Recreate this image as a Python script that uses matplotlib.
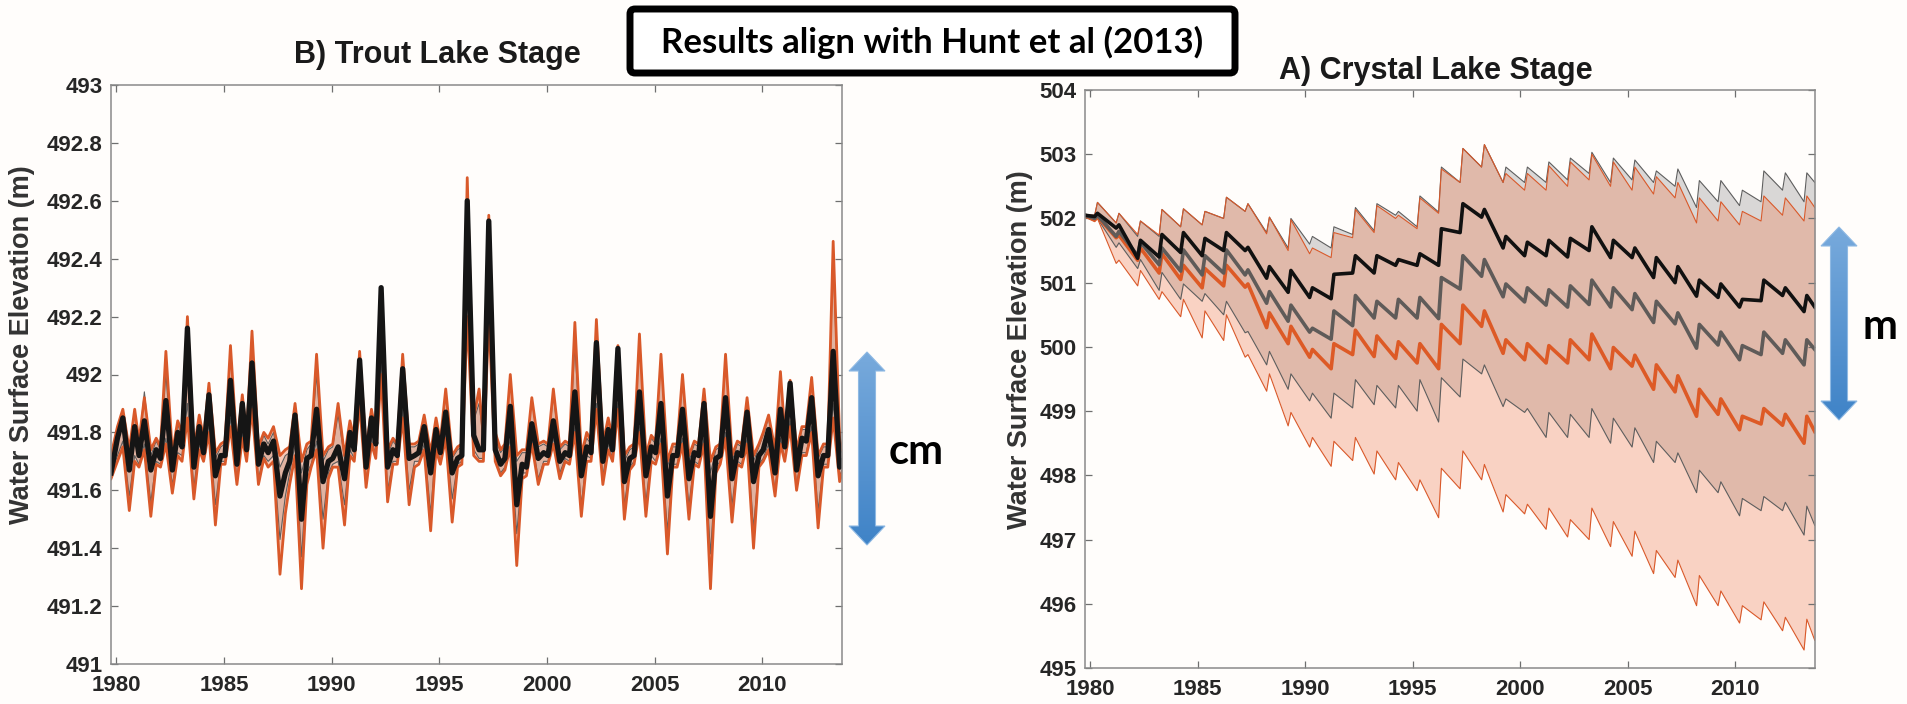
import numpy as np
import matplotlib
matplotlib.use("Agg")
import matplotlib.pyplot as plt
from matplotlib.patches import Polygon, FancyBboxPatch
from matplotlib.colors import LinearSegmentedColormap
from matplotlib.ticker import FuncFormatter

# ---------------- DATA ----------------
# Trout Lake (left panel): start, then per year phases (.05, .30, .60, .85), 2013 row ends at 2013.71
trout_years = list(range(1980, 2013))
trout_phases = [0.05, 0.30, 0.60, 0.85]
trout_tail = [2013.05, 2013.30, 2013.60, 2013.71]
trout_start = 1979.75

trout_black = [491.66,
    491.78, 491.85, 491.67, 491.82,  491.72, 491.84, 491.67, 491.74,  491.71, 491.91, 491.67, 491.80,
    491.75, 492.16, 491.68, 491.82,  491.73, 491.93, 491.65, 491.72,  491.72, 491.98, 491.69, 491.90,
    491.74, 492.04, 491.69, 491.76,  491.73, 491.77, 491.58, 491.66,  491.70, 491.86, 491.50, 491.71,
    491.72, 491.88, 491.63, 491.70,  491.71, 491.75, 491.64, 491.80,  491.74, 492.05, 491.68, 491.85,
    491.76, 492.30, 491.68, 491.74,  491.72, 492.02, 491.71, 491.72,  491.73, 491.82, 491.66, 491.81,
    491.73, 491.87, 491.66, 491.71,  491.72, 492.60, 491.79, 491.74,  491.74, 492.53, 491.74, 491.69,
    491.71, 491.89, 491.55, 491.69,  491.68, 491.83, 491.71, 491.73,  491.72, 491.84, 491.70, 491.73,
    491.72, 491.94, 491.65, 491.75,  491.73, 492.11, 491.70, 491.81,  491.74, 492.09, 491.63, 491.71,
    491.72, 491.94, 491.65, 491.75,  491.73, 491.90, 491.58, 491.72,  491.72, 491.88, 491.64, 491.73,
    491.72, 491.90, 491.51, 491.71,  491.72, 491.92, 491.64, 491.73,  491.72, 491.87, 491.63, 491.72,
    491.74, 491.81, 491.66, 491.88,  491.75, 491.97, 491.67, 491.78,  491.77, 491.92, 491.65, 491.72,
    491.72, 492.08, 491.68, 491.70]

trout_orange_hi = [491.72,
    491.82, 491.88, 491.74, 491.88,  491.77, 491.92, 491.74, 491.78,  491.75, 492.08, 491.73, 491.84,
    491.80, 492.20, 491.74, 491.86,  491.78, 491.97, 491.73, 491.76,  491.77, 492.10, 491.75, 491.93,
    491.79, 492.15, 491.75, 491.80,  491.78, 491.82, 491.72, 491.74,  491.75, 491.90, 491.70, 491.76,
    491.77, 492.07, 491.72, 491.75,  491.76, 491.90, 491.72, 491.84,  491.78, 492.08, 491.74, 491.88,
    491.80, 492.30, 491.74, 491.78,  491.76, 492.07, 491.76, 491.76,  491.77, 491.86, 491.73, 491.85,
    491.77, 491.95, 491.72, 491.75,  491.76, 492.68, 491.85, 491.95,  491.78, 492.55, 491.80, 491.74,
    491.76, 492.00, 491.72, 491.74,  491.74, 491.92, 491.76, 491.77,  491.76, 491.95, 491.75, 491.77,
    491.76, 492.18, 491.72, 491.80,  491.77, 492.19, 491.76, 491.85,  491.78, 492.10, 491.72, 491.75,
    491.76, 492.14, 491.72, 491.79,  491.77, 492.07, 491.70, 491.76,  491.76, 492.00, 491.72, 491.77,
    491.76, 491.95, 491.70, 491.75,  491.76, 492.07, 491.72, 491.77,  491.76, 491.92, 491.72, 491.76,
    491.80, 491.86, 491.74, 492.01,  491.80, 491.98, 491.74, 491.82,  491.82, 491.99, 491.72, 491.76,
    491.76, 492.46, 491.78, 491.74]

trout_orange_lo = [491.64,
    491.70, 491.75, 491.53, 491.70,  491.68, 491.74, 491.51, 491.69,  491.68, 491.76, 491.59, 491.72,
    491.70, 491.85, 491.57, 491.74,  491.70, 491.80, 491.48, 491.69,  491.69, 491.82, 491.62, 491.78,
    491.70, 491.88, 491.62, 491.71,  491.68, 491.70, 491.31, 491.52,  491.62, 491.72, 491.26, 491.62,
    491.68, 491.74, 491.40, 491.64,  491.68, 491.68, 491.48, 491.72,  491.70, 491.90, 491.61, 491.76,
    491.71, 492.00, 491.56, 491.69,  491.69, 491.85, 491.55, 491.68,  491.69, 491.74, 491.46, 491.74,
    491.69, 491.78, 491.49, 491.68,  491.69, 492.20, 491.72, 491.70,  491.70, 492.20, 491.70, 491.65,
    491.67, 491.75, 491.34, 491.64,  491.65, 491.76, 491.62, 491.69,  491.69, 491.76, 491.64, 491.70,
    491.69, 491.80, 491.51, 491.70,  491.70, 491.88, 491.62, 491.74,  491.70, 491.88, 491.50, 491.67,
    491.69, 491.80, 491.51, 491.70,  491.69, 491.76, 491.38, 491.68,  491.68, 491.76, 491.50, 491.69,
    491.68, 491.76, 491.26, 491.66,  491.69, 491.78, 491.49, 491.69,  491.68, 491.76, 491.40, 491.68,
    491.70, 491.74, 491.58, 491.76,  491.70, 491.82, 491.60, 491.72,  491.72, 491.80, 491.47, 491.68,
    491.68, 491.85, 491.63, 491.66]

trout_gray_hi = [491.70,
    491.80, 491.87, 491.72, 491.86,  491.76, 491.94, 491.72, 491.77,  491.74, 492.00, 491.72, 491.83,
    491.78, 492.20, 491.72, 491.85,  491.77, 491.95, 491.71, 491.75,  491.76, 492.10, 491.73, 491.92,
    491.78, 492.12, 491.73, 491.79,  491.76, 491.80, 491.68, 491.72,  491.73, 491.89, 491.66, 491.74,
    491.76, 492.00, 491.70, 491.74,  491.75, 491.86, 491.71, 491.83,  491.77, 492.07, 491.73, 491.87,
    491.79, 492.30, 491.72, 491.77,  491.75, 492.05, 491.75, 491.75,  491.76, 491.86, 491.72, 491.84,
    491.76, 491.93, 491.71, 491.74,  491.75, 492.68, 491.84, 491.90,  491.77, 492.55, 491.78, 491.73,
    491.75, 492.00, 491.70, 491.73,  491.73, 491.92, 491.75, 491.76,  491.75, 491.93, 491.74, 491.76,
    491.75, 492.10, 491.71, 491.78,  491.76, 492.15, 491.75, 491.84,  491.77, 492.10, 491.70, 491.74,
    491.75, 492.14, 491.71, 491.78,  491.76, 492.07, 491.68, 491.75,  491.75, 491.98, 491.70, 491.76,
    491.75, 491.94, 491.66, 491.74,  491.75, 492.07, 491.70, 491.76,  491.75, 491.91, 491.70, 491.75,
    491.79, 491.85, 491.72, 492.01,  491.79, 491.98, 491.73, 491.81,  491.81, 491.98, 491.71, 491.75,
    491.75, 492.40, 491.75, 491.73]

trout_gray_lo = [491.65,
    491.72, 491.77, 491.58, 491.72,  491.69, 491.76, 491.56, 491.70,  491.69, 491.78, 491.62, 491.73,
    491.72, 491.90, 491.61, 491.76,  491.71, 491.83, 491.55, 491.70,  491.70, 491.85, 491.64, 491.80,
    491.72, 491.90, 491.64, 491.72,  491.70, 491.72, 491.43, 491.58,  491.66, 491.76, 491.37, 491.66,
    491.69, 491.77, 491.50, 491.66,  491.69, 491.70, 491.55, 491.74,  491.71, 491.92, 491.63, 491.78,
    491.72, 492.05, 491.60, 491.70,  491.70, 491.88, 491.60, 491.70,  491.70, 491.76, 491.52, 491.76,
    491.70, 491.80, 491.57, 491.69,  491.70, 492.30, 491.74, 491.71,  491.71, 492.30, 491.71, 491.66,
    491.68, 491.78, 491.45, 491.66,  491.66, 491.78, 491.64, 491.70,  491.70, 491.78, 491.66, 491.71,
    491.70, 491.82, 491.55, 491.72,  491.71, 491.90, 491.65, 491.76,  491.71, 491.90, 491.55, 491.68,
    491.70, 491.82, 491.56, 491.72,  491.70, 491.78, 491.46, 491.69,  491.69, 491.78, 491.55, 491.70,
    491.69, 491.78, 491.38, 491.68,  491.70, 491.80, 491.55, 491.70,  491.69, 491.78, 491.47, 491.69,
    491.71, 491.76, 491.60, 491.78,  491.71, 491.84, 491.62, 491.73,  491.73, 491.82, 491.53, 491.69,
    491.69, 491.90, 491.65, 491.67]

# Crystal Lake (right panel): start, then per year (trough @ +0.20, peak @ +0.33), end
crystal_years = list(range(1980, 2014))
crystal_phases = [0.20, 0.33]
crystal_start = 1979.75
crystal_end = 2013.70

crystal_gray_hi = [502.05,
    502.05, 502.25, 501.93, 502.08, 501.72, 501.96, 501.72, 502.14, 501.87, 502.15, 501.90, 502.11,
    502.00, 502.33, 502.11, 502.23, 501.78, 502.02, 501.54, 502.00, 501.60, 501.72, 501.54, 501.87,
    501.75, 502.17, 501.81, 502.23, 502.05, 502.11, 501.87, 502.35, 502.10, 502.80, 502.56, 503.09,
    502.80, 503.15, 502.56, 502.80, 502.56, 502.80, 502.56, 502.88, 502.60, 502.94, 502.70, 503.03,
    502.56, 502.94, 502.60, 502.91, 502.56, 502.74, 502.50, 502.77, 502.17, 502.59, 502.26, 502.59,
    502.20, 502.44, 502.26, 502.74, 502.44, 502.71, 502.26, 502.71,
    502.56]

crystal_orange_hi = [502.05,
    502.05, 502.25, 501.93, 502.08, 501.75, 501.96, 501.74, 502.14, 501.87, 502.15, 501.90, 502.11,
    502.00, 502.33, 502.11, 502.23, 501.76, 502.02, 501.50, 501.98, 501.45, 501.54, 501.39, 501.78,
    501.70, 502.14, 501.78, 502.20, 502.00, 502.05, 501.84, 502.32, 502.08, 502.77, 502.56, 503.09,
    502.80, 503.15, 502.56, 502.70, 502.44, 502.70, 502.44, 502.82, 502.50, 502.88, 502.60, 503.00,
    502.50, 502.88, 502.44, 502.80, 502.38, 502.65, 502.32, 502.56, 501.93, 502.32, 501.96, 502.26,
    501.90, 502.11, 501.96, 502.35, 502.05, 502.32, 501.96, 502.35,
    502.17]

crystal_black = [502.05,
    502.03, 502.08, 501.85, 501.90, 501.38, 501.66, 501.40, 501.75, 501.47, 501.78, 501.42, 501.69,
    501.50, 501.78, 501.50, 501.55, 501.07, 501.25, 500.85, 501.19, 500.77, 500.92, 500.75, 501.13,
    501.15, 501.42, 501.15, 501.42, 501.27, 501.36, 501.27, 501.45, 501.27, 501.84, 501.78, 502.23,
    502.02, 502.14, 501.54, 501.72, 501.42, 501.63, 501.42, 501.66, 501.40, 501.69, 501.50, 501.87,
    501.39, 501.66, 501.39, 501.54, 501.08, 501.39, 501.00, 501.25, 500.79, 501.04, 500.77, 500.98,
    500.62, 500.74, 500.72, 501.04, 500.80, 500.92, 500.55, 500.80,
    500.62]

crystal_gray_mid = [502.05,
    502.00, 502.05, 501.72, 501.80, 501.42, 501.63, 501.28, 501.54, 501.18, 501.51, 501.12, 501.42,
    501.15, 501.51, 501.12, 501.20, 500.68, 500.86, 500.40, 500.65, 500.23, 500.29, 500.12, 500.56,
    500.33, 500.80, 500.45, 500.71, 500.45, 500.74, 500.45, 500.77, 500.44, 501.08, 500.90, 501.42,
    501.10, 501.36, 500.78, 500.98, 500.70, 500.92, 500.65, 500.89, 500.62, 500.95, 500.66, 501.04,
    500.62, 500.92, 500.58, 500.83, 500.38, 500.71, 500.36, 500.53, 499.98, 500.35, 500.03, 500.23,
    499.80, 500.02, 499.88, 500.23, 499.90, 500.11, 499.72, 500.11,
    499.96]

crystal_orange_mid = [502.05,
    501.98, 502.03, 501.70, 501.74, 501.35, 501.54, 501.15, 501.45, 501.05, 501.27, 500.92, 501.22,
    500.95, 501.27, 500.93, 500.98, 500.30, 500.53, 500.05, 500.32, 499.84, 499.96, 499.66, 500.05,
    499.88, 500.26, 499.85, 500.17, 499.82, 500.08, 499.75, 500.05, 499.66, 500.35, 500.05, 500.65,
    500.32, 500.56, 499.90, 500.11, 499.80, 500.05, 499.75, 500.02, 499.75, 500.11, 499.80, 500.20,
    499.66, 499.99, 499.70, 499.87, 499.34, 499.72, 499.30, 499.55, 498.92, 499.34, 498.95, 499.19,
    498.71, 498.92, 498.80, 499.04, 498.78, 498.95, 498.50, 498.92,
    498.68]

crystal_gray_lo = [502.02,
    501.97, 502.00, 501.55, 501.62, 501.22, 501.36, 500.88, 501.16, 500.74, 500.98, 500.71, 500.83,
    500.50, 500.71, 500.22, 500.24, 499.72, 499.93, 499.34, 499.58, 499.16, 499.28, 498.89, 499.28,
    499.05, 499.49, 499.10, 499.40, 499.05, 499.40, 499.00, 499.49, 498.83, 499.52, 499.22, 499.81,
    499.58, 499.72, 499.07, 499.19, 498.98, 499.04, 498.59, 498.98, 498.59, 498.95, 498.59, 499.04,
    498.50, 498.89, 498.44, 498.74, 498.20, 498.53, 498.20, 498.35, 497.73, 498.08, 497.73, 497.90,
    497.37, 497.64, 497.45, 497.67, 497.45, 497.58, 497.07, 497.52,
    497.22]

crystal_orange_lo = [502.02,
    501.95, 502.00, 501.30, 501.35, 500.95, 501.19, 500.74, 500.86, 500.47, 500.74, 500.14, 500.56,
    500.10, 500.50, 499.84, 499.88, 499.31, 499.58, 498.77, 498.98, 498.44, 498.59, 498.14, 498.53,
    498.23, 498.59, 498.02, 498.38, 497.93, 498.20, 497.76, 497.93, 497.34, 498.11, 497.79, 498.38,
    497.93, 498.17, 497.43, 497.70, 497.40, 497.55, 497.16, 497.49, 497.04, 497.31, 497.00, 497.49,
    496.89, 497.28, 496.74, 497.13, 496.47, 496.83, 496.41, 496.68, 495.97, 496.44, 495.97, 496.20,
    495.70, 495.97, 495.75, 496.03, 495.58, 495.79, 495.28, 495.76,
    495.43]

x_ticks = [1980, 1985, 1990, 1995, 2000, 2005, 2010]
trout_yticks = [491.0, 491.2, 491.4, 491.6, 491.8, 492.0, 492.2, 492.4, 492.6, 492.8, 493.0]
crystal_yticks = [495, 496, 497, 498, 499, 500, 501, 502, 503, 504]

title_left = "B) Trout Lake Stage"
title_right = "A) Crystal Lake Stage"
ylabel = "Water Surface Elevation (m)"
banner = "Results align with Hunt et al (2013)"

# ---------------- TIME AXES ----------------
t_trout = np.array([trout_start] + [y + p for y in trout_years for p in trout_phases] + trout_tail)
t_crystal = np.array([crystal_start] + [y + p for y in crystal_years for p in crystal_phases] + [crystal_end])

# ---------------- FIGURE ----------------
W, H = 1908, 704
BG = "#fffdfb"
fig = plt.figure(figsize=(W / 100, H / 100), dpi=100, facecolor=BG)

def px_axes(x0, y0, x1, y1):
    return fig.add_axes([x0 / W, 1 - y1 / H, (x1 - x0) / W, (y1 - y0) / H])

axL = px_axes(111, 85, 842, 664)
axR = px_axes(1085, 90, 1815, 668)

TFONT = ["Liberation Sans", "DejaVu Sans"]
GRAY_FILL = "#8c8c8c"
ORANGE_FILL = "#ef7d52"
ORANGE_LINE = "#d9592a"
GRAY_LINE = "#5e5e5e"

def style(ax, yticks, ylim):
    ax.set_facecolor(BG)
    ax.set_xlim(1979.75, 2013.71)
    ax.set_ylim(*ylim)
    ax.set_xticks(x_ticks)
    ax.set_yticks(yticks)
    ax.yaxis.set_major_formatter(FuncFormatter(lambda v, p: f"{v:g}"))
    ax.tick_params(direction="in", length=5, width=0.9, color="#6f6f6f",
                   top=True, right=True, labelcolor="#262626")
    ax.tick_params(axis="y", pad=6)
    ax.tick_params(axis="x", pad=8)
    for lab in ax.get_xticklabels() + ax.get_yticklabels():
        lab.set_fontfamily(TFONT)
        lab.set_fontweight("bold")
        lab.set_fontsize(16)
    for s in ax.spines.values():
        s.set_color("#8a8a8a")
        s.set_linewidth(1.1)

# Left: Trout Lake
axL.fill_between(t_trout, trout_gray_lo, trout_gray_hi, color=GRAY_FILL, alpha=0.33, lw=0)
axL.fill_between(t_trout, trout_orange_lo, trout_orange_hi, color=ORANGE_FILL, alpha=0.40, lw=0)
axL.plot(t_trout, trout_gray_hi, color=GRAY_LINE, lw=0.8)
axL.plot(t_trout, trout_gray_lo, color=GRAY_LINE, lw=0.8)
axL.plot(t_trout, trout_orange_hi, color=ORANGE_LINE, lw=2.0)
axL.plot(t_trout, trout_orange_lo, color=ORANGE_LINE, lw=2.0)
axL.plot(t_trout, trout_black, color="#151515", lw=3.8)
style(axL, trout_yticks, (491, 493))

# Right: Crystal Lake
axR.fill_between(t_crystal, crystal_gray_lo, crystal_gray_hi, color=GRAY_FILL, alpha=0.33, lw=0)
axR.fill_between(t_crystal, crystal_orange_lo, crystal_orange_hi, color=ORANGE_FILL, alpha=0.33, lw=0)
axR.plot(t_crystal, crystal_gray_hi, color=GRAY_LINE, lw=0.8)
axR.plot(t_crystal, crystal_gray_lo, color=GRAY_LINE, lw=0.8)
axR.plot(t_crystal, crystal_orange_hi, color=ORANGE_LINE, lw=0.8)
axR.plot(t_crystal, crystal_orange_lo, color=ORANGE_LINE, lw=0.8)
axR.plot(t_crystal, crystal_orange_mid, color="#dd5a26", lw=2.6)
axR.plot(t_crystal, crystal_gray_mid, color="#5f5b59", lw=2.6)
axR.plot(t_crystal, crystal_black, color="#111111", lw=2.6)
style(axR, crystal_yticks, (495, 504))

# ---------------- OVERLAY (titles, labels, banner, arrows) ----------------
ov = fig.add_axes([0, 0, 1, 1], zorder=10)
ov.patch.set_alpha(0)
ov.axis("off")
ov.set_autoscale_on(False)
ov.set_xlim(0, W)
ov.set_ylim(H, 0)

ov.text(437, 55, title_left, ha="center", va="center", fontsize=22, fontweight="bold",
        family=TFONT, color="#1a1a1a")
ov.text(1436, 71, title_right, ha="center", va="center", fontsize=22, fontweight="bold",
        family=TFONT, color="#1a1a1a")
ov.text(22, 345, ylabel, ha="center", va="center", rotation=90, fontsize=19.5,
        fontweight="bold", family=TFONT, color="#333333")
ov.text(1020, 350, ylabel, ha="center", va="center", rotation=90, fontsize=19.5,
        fontweight="bold", family=TFONT, color="#333333")

box = FancyBboxPatch((630, 9), 605, 64, boxstyle="round,pad=0,rounding_size=5",
                     lw=5, ec="black", fc="white", zorder=3)
ov.add_patch(box)
ov.text(932, 42, banner, ha="center", va="center", fontsize=25, fontweight="bold",
        family=["Lato", "DejaVu Sans"], color="black", zorder=4)

cmap = LinearSegmentedColormap.from_list("arrowblue", ["#78aadc", "#3f83c7"])
grad = np.linspace(0, 1, 256).reshape(-1, 1)

def double_arrow(cx, top, bot, sw=8.5, hw=18, hl=19):
    pts = [(cx, top), (cx + hw, top + hl), (cx + sw, top + hl), (cx + sw, bot - hl),
           (cx + hw, bot - hl), (cx, bot), (cx - hw, bot - hl), (cx - sw, bot - hl),
           (cx - sw, top + hl), (cx - hw, top + hl)]
    poly = Polygon(pts, closed=True, fc="none", ec="#8fb9e3", lw=0.8, zorder=6)
    ov.add_patch(poly)
    im = ov.imshow(grad, extent=(cx - hw, cx + hw, bot, top), cmap=cmap,
                   aspect="auto", zorder=5, interpolation="bilinear")
    im.set_clip_path(poly)

double_arrow(867, 352, 545)
double_arrow(1839, 227, 420)
ov.text(916, 452, "cm", ha="center", va="center", fontsize=30, fontweight="bold",
        family=["Lato", "DejaVu Sans"], color="black")
ov.text(1880, 327, "m", ha="center", va="center", fontsize=30, fontweight="bold",
        family=["Lato", "DejaVu Sans"], color="black")

ov.set_xlim(0, W)
ov.set_ylim(H, 0)

fig.savefig("out.png", dpi=100, facecolor=BG)
